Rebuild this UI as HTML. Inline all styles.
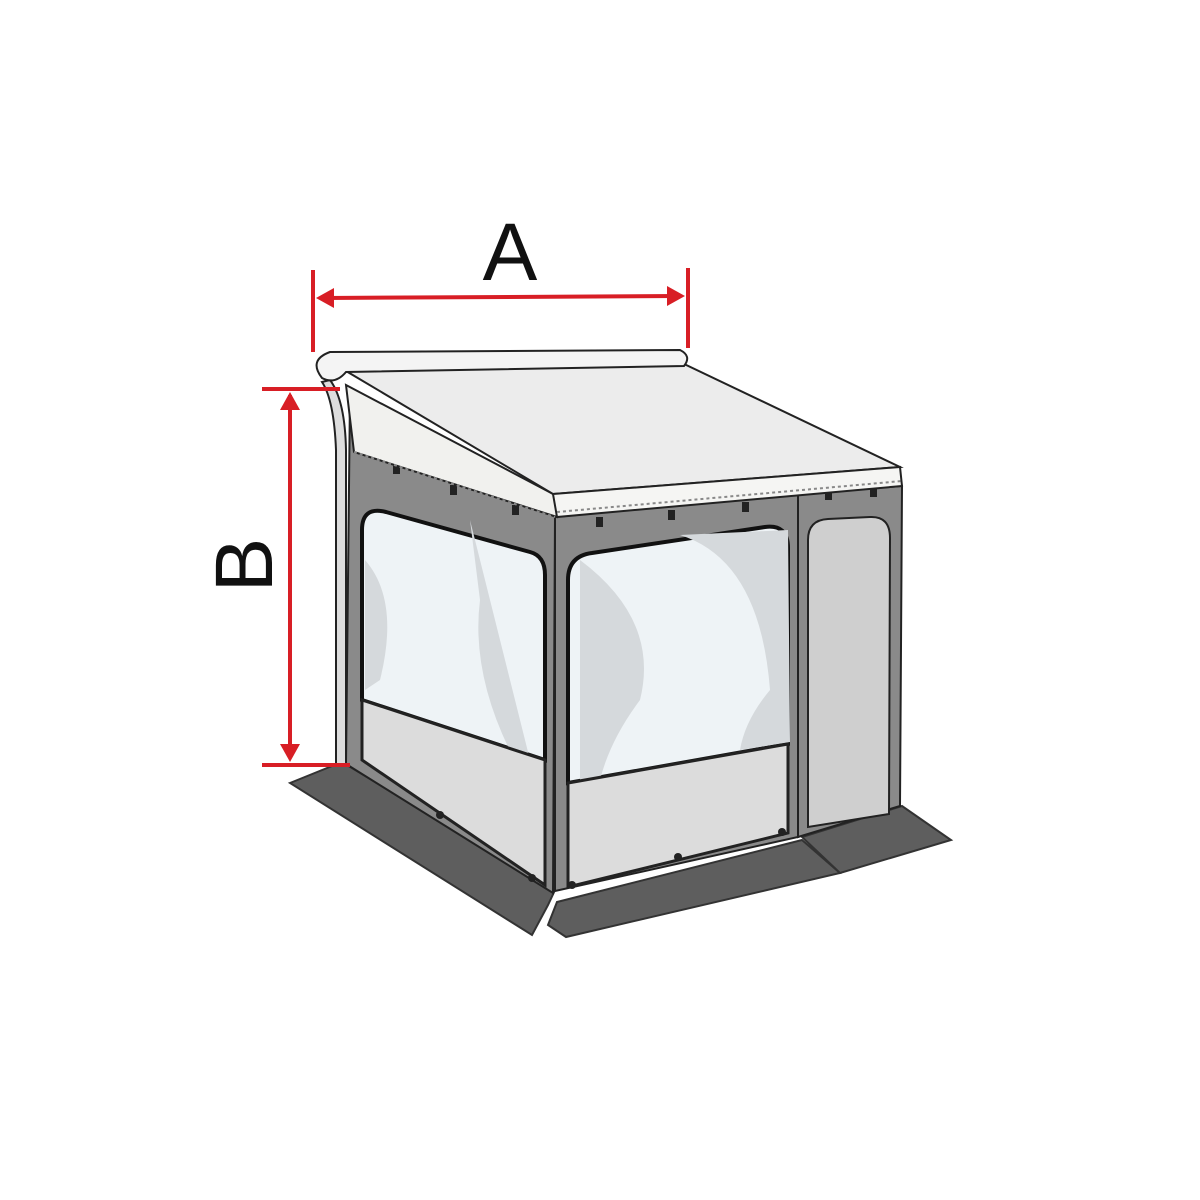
<!DOCTYPE html>
<html><head><style>
html,body{margin:0;padding:0;background:#fff;}
svg{display:block;}
text{font-family:"Liberation Sans",sans-serif;font-weight:normal;}
</style></head><body>
<svg width="1200" height="1200" viewBox="0 0 1200 1200" xmlns="http://www.w3.org/2000/svg">
<rect width="1200" height="1200" fill="#fff"/>
<polygon points="290,783 342,762 555,890 548,905 532,935" fill="#5e5e5e" stroke="#333" stroke-width="2"/>
<polygon points="557,902 802,840 840,873 566,937 548,925" fill="#5e5e5e" stroke="#333" stroke-width="2"/>
<polygon points="802,837 902,806 951,840 840,873" fill="#5e5e5e" stroke="#333" stroke-width="2"/>
<polygon points="350,394 555,517 553,893 346,764" fill="#8a8a8a" stroke="#222" stroke-width="2"/>
<path d="M330,380 Q345,400 346,450 L346,764 L336,764 L336,450 Q334,400 322,382 Z" fill="#ddd" stroke="#222" stroke-width="2"/>
<path d="M362,530 Q362,506 386,512 L530,552 Q545,556 545,575 L545,760 L362,700 Z" fill="#eef3f6" stroke="#111" stroke-width="4"/>
<path d="M365,560 Q400,600 380,680 L365,690Z M470,520 Q500,640 530,760 L520,770 Q470,680 480,600Z" fill="#d5d9dc"/>
<polygon points="362,700 545,760 545,885 362,760" fill="#dcdcdc" stroke="#222" stroke-width="3"/>
<polygon points="555,517 798,494 798,837 555,891" fill="#8a8a8a" stroke="#222" stroke-width="2"/>
<path d="M568,580 Q568,556 592,553 L765,527 Q788,524 788,548 L788,744 L568,783 Z" fill="#eef3f6" stroke="#111" stroke-width="4"/>
<path d="M580,560 Q660,620 640,700 Q610,740 600,780 L580,782Z M680,535 Q760,560 770,690 Q745,720 740,750 L790,742 L788,530Z" fill="#d5d9dc"/>
<polygon points="568,783 788,744 788,833 568,887" fill="#dcdcdc" stroke="#222" stroke-width="3"/>
<polygon points="798,494 902,486 900,806 798,837" fill="#8a8a8a" stroke="#222" stroke-width="2"/>
<path d="M808,540 Q808,520 828,519 L870,517 Q890,516 890,538 L889,814 L808,827 Z" fill="#cfcfcf" stroke="#222" stroke-width="2"/>
<g fill="#222">
<rect x="393" y="464" width="7" height="10"/><rect x="450" y="485" width="7" height="10"/><rect x="512" y="505" width="7" height="10"/>
<rect x="596" y="517" width="7" height="10"/><rect x="668" y="510" width="7" height="10"/><rect x="742" y="502" width="7" height="10"/>
<rect x="825" y="490" width="7" height="10"/><rect x="870" y="487" width="7" height="10"/>
<circle cx="440" cy="815" r="4"/><circle cx="532" cy="878" r="4"/><circle cx="572" cy="885" r="4"/><circle cx="678" cy="857" r="4"/><circle cx="782" cy="832" r="4"/>
</g>
<polygon points="346,385 555,495 557,517 354,452" fill="#f1f1ee" stroke="#222" stroke-width="2"/>
<line x1="354" y1="452" x2="555" y2="517" stroke="#888" stroke-width="2" stroke-dasharray="3,3"/>
<polygon points="346,371 682,363 900,467 553,494" fill="#ececec" stroke="#222" stroke-width="2"/>
<polygon points="553,494 900,467 902,486 557,517" fill="#f5f5f3" stroke="#222" stroke-width="2"/>
<line x1="557" y1="512" x2="902" y2="481" stroke="#888" stroke-width="2" stroke-dasharray="3,3"/>
<path d="M330,352 L680,350 Q692,356 684,366 L346,372 Q335,385 322,378 Q308,360 330,352 Z" fill="#f4f4f4" stroke="#222" stroke-width="2"/>
<g stroke="#d81e25" stroke-width="4" fill="#d81e25">
<line x1="313" y1="270" x2="313" y2="352"/>
<line x1="688" y1="268" x2="688" y2="348"/>
<line x1="325" y1="298" x2="678" y2="296"/>
<polygon points="316,298 334,288 334,308" stroke="none"/>
<polygon points="685,296 667,286 667,306" stroke="none"/>
<line x1="262" y1="389" x2="340" y2="389"/>
<line x1="262" y1="765" x2="350" y2="765"/>
<line x1="290" y1="395" x2="290" y2="758"/>
<polygon points="290,392 280,410 300,410" stroke="none"/>
<polygon points="290,762 280,744 300,744" stroke="none"/>
</g>
<text x="510" y="280" font-size="82" text-anchor="middle" fill="#111">A</text>
<text transform="translate(272,565) rotate(-90)" font-size="82" text-anchor="middle" fill="#111">B</text>
</svg>
</body></html>
